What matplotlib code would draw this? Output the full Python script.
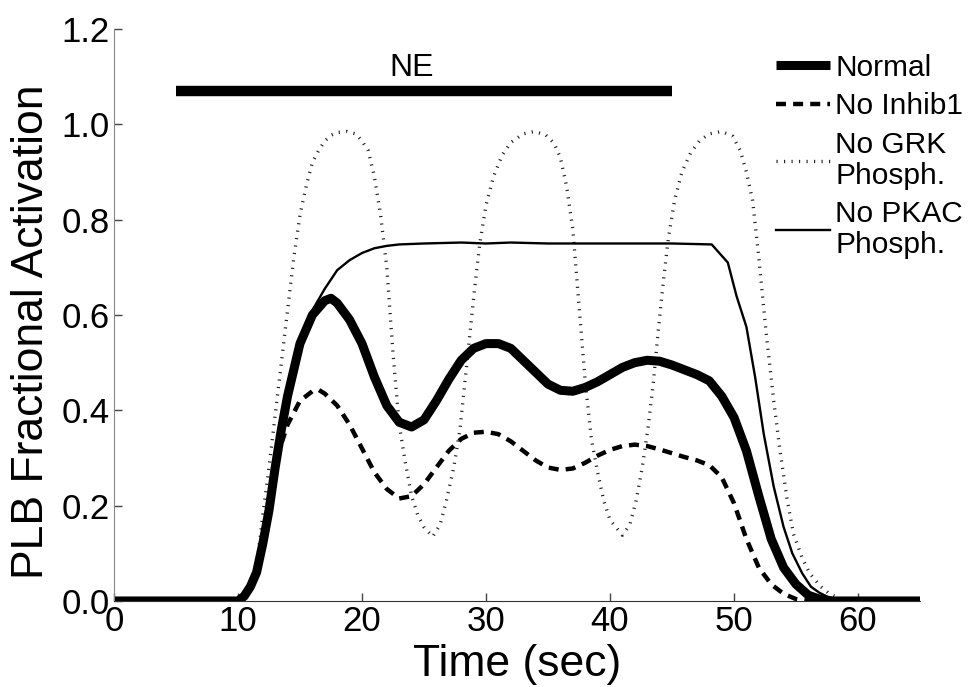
import numpy as np
import matplotlib
matplotlib.use('Agg')
import matplotlib.pyplot as plt

# data (time in sec, fractional activation)
t_normal = [0, 10, 10.5, 11, 11.5, 12, 12.5, 13, 13.5, 14, 15, 16, 17, 17.5, 18, 19, 20, 21, 22, 23,
            24, 25, 26, 27, 28, 29, 30, 31, 32, 33, 34, 35, 36, 37, 38, 39, 40, 41, 42, 43, 44, 45,
            46, 47, 48, 49, 50, 51, 52, 53, 54, 55, 56, 57, 58, 65]
y_normal = [0, 0, 0.01, 0.03, 0.06, 0.12, 0.19, 0.28, 0.36, 0.43, 0.54, 0.60, 0.63, 0.635, 0.625,
            0.59, 0.54, 0.47, 0.41, 0.375, 0.365, 0.38, 0.42, 0.465, 0.505, 0.53, 0.54, 0.54, 0.53,
            0.505, 0.48, 0.455, 0.442, 0.44, 0.448, 0.46, 0.475, 0.49, 0.5, 0.505, 0.503, 0.495,
            0.485, 0.475, 0.462, 0.43, 0.385, 0.315, 0.22, 0.13, 0.07, 0.035, 0.012, 0.003, 0, 0]

t_inhib = [0, 10, 10.5, 11, 11.5, 12, 12.5, 13, 13.5, 14, 15, 16, 16.5, 17, 18, 19, 20, 21, 22, 23,
           24, 25, 26, 27, 28, 29, 30, 31, 32, 33, 34, 35, 36, 37, 38, 39, 40, 41, 42, 43, 44, 45,
           46, 47, 48, 49, 50, 51, 52, 53, 54, 55, 56, 65]
y_inhib = [0, 0, 0.01, 0.03, 0.06, 0.12, 0.19, 0.27, 0.33, 0.37, 0.42, 0.44, 0.443, 0.435, 0.41,
           0.37, 0.32, 0.27, 0.235, 0.215, 0.22, 0.245, 0.28, 0.315, 0.34, 0.353, 0.355, 0.35,
           0.335, 0.315, 0.295, 0.28, 0.275, 0.278, 0.29, 0.305, 0.317, 0.325, 0.328, 0.325,
           0.318, 0.31, 0.302, 0.295, 0.285, 0.26, 0.205, 0.13, 0.07, 0.035, 0.015, 0.004, 0, 0]

t_grk = [0, 10, 10.5, 11, 11.5, 12, 12.5, 13, 13.5, 14, 14.5, 15, 15.5, 16, 16.5, 17, 17.5, 18,
         18.8, 19.5, 20, 20.5, 21, 21.5, 22, 22.5, 23, 23.5, 24, 24.5, 25, 25.7, 26.3, 26.8, 27.4,
         27.9, 28.3, 28.7, 29.1, 29.5, 30, 30.6, 31.3, 32, 33, 33.9, 34.8, 35.5, 36, 36.5, 37,
         37.5, 38, 38.5, 39, 39.5, 40, 41, 41.6, 42.1, 42.6, 43.1, 43.5, 43.9, 44.3, 44.7, 45.2,
         45.8, 46.5, 47.2, 48, 49, 49.9, 50.5, 51, 51.5, 52, 52.6, 53.2, 53.7, 54.3, 54.8, 55.5,
         56.1, 57, 57.7, 58.5, 59, 65]
y_grk = [0, 0, 0.005, 0.03, 0.07, 0.18, 0.28, 0.39, 0.5, 0.61, 0.72, 0.81, 0.87, 0.92, 0.945,
         0.965, 0.977, 0.983, 0.985, 0.98, 0.965, 0.945, 0.89, 0.81, 0.7, 0.52, 0.37, 0.29, 0.22,
         0.18, 0.155, 0.135, 0.16, 0.21, 0.28, 0.36, 0.46, 0.56, 0.66, 0.75, 0.83, 0.89, 0.935,
         0.962, 0.98, 0.985, 0.978, 0.96, 0.93, 0.87, 0.78, 0.62, 0.46, 0.34, 0.27, 0.21, 0.17,
         0.138, 0.16, 0.21, 0.28, 0.37, 0.46, 0.57, 0.67, 0.76, 0.84, 0.9, 0.94, 0.965, 0.98,
         0.985, 0.975, 0.945, 0.9, 0.84, 0.72, 0.56, 0.42, 0.317, 0.21, 0.14, 0.09, 0.058, 0.03,
         0.015, 0.005, 0, 0]

t_pkac = [0, 10, 10.5, 11, 11.5, 12, 12.5, 13, 13.5, 14, 15, 16, 17, 18, 19, 20, 21, 22, 23, 25,
          28, 30, 32, 35, 40, 45, 48.2, 49.5, 50.2, 51, 51.7, 52.4, 53.2, 54, 54.7, 55.5, 56.2,
          56.9, 58, 59, 65]
y_pkac = [0, 0, 0.01, 0.03, 0.06, 0.12, 0.19, 0.28, 0.36, 0.44, 0.55, 0.61, 0.655, 0.694, 0.715,
          0.73, 0.74, 0.745, 0.748, 0.75, 0.752, 0.75, 0.752, 0.75, 0.75, 0.75, 0.748, 0.71,
          0.64, 0.575, 0.47, 0.35, 0.24, 0.155, 0.1, 0.058, 0.03, 0.017, 0.003, 0, 0]

ne_start, ne_end, ne_level = 5, 45, 1.07

plt.rcParams['font.family'] = ['Liberation Sans', 'DejaVu Sans']

fig = plt.figure(figsize=(9.74, 6.87), dpi=100)
ax = fig.add_axes([0.117, 0.1252, 0.8276, 0.8326])

ax.plot(t_grk, y_grk, color='#222222', linewidth=2.4, linestyle=(0, (0.35, 1.9)),
        dash_capstyle='butt', label='No GRK\nPhosph.')
ax.plot(t_pkac, y_pkac, color='black', linewidth=1.7, label='No PKAC\nPhosph.')
ax.plot(t_inhib, y_inhib, color='black', linewidth=3.2, linestyle=(0, (2.25, 1.6)),
        label='No Inhib1')
ax.plot(t_normal, y_normal, color='black', linewidth=6.5, solid_capstyle='butt', label='Normal')

ax.plot([ne_start, ne_end], [ne_level, ne_level], color='black', linewidth=7.5,
        solid_capstyle='butt')
ax.text(24, 1.102, 'NE', ha='center', va='baseline', fontsize=23)

ax.set_xlim(0, 65)
ax.set_ylim(0, 1.2)
ax.set_xticks([0, 10, 20, 30, 40, 50, 60])
ax.set_yticks([0, 0.2, 0.4, 0.6, 0.8, 1.0, 1.2])
ax.set_yticklabels(['0.0', '0.2', '0.4', '0.6', '0.8', '1.0', '1.2'])
ax.tick_params(direction='in', length=6, width=1, labelsize=25, colors='#444444',
               labelcolor='black')
ax.tick_params(axis='x', pad=3)
ax.tick_params(axis='y', pad=3)
for s in ['top', 'right']:
    ax.spines[s].set_visible(False)
ax.spines['left'].set_color('#888888')
ax.spines['bottom'].set_color('#333333')

ax.set_xlabel('Time (sec)', fontsize=32)
ax.xaxis.set_label_coords(0.5, -0.075)
ax.set_ylabel('PLB Fractional Activation', fontsize=32)
ax.yaxis.set_label_coords(-0.077, 0.47)

h, l = ax.get_legend_handles_labels()
order = [3, 2, 0, 1]
leg = fig.legend([h[i] for i in order], [l[i] for i in order], loc='upper left',
                 bbox_to_anchor=(0.797, 0.922), frameon=False, fontsize=21.5,
                 handlelength=1.8, handletextpad=0.18, labelspacing=0.36, borderpad=0,
                 borderaxespad=0)
for txt in leg.get_texts():
    txt.set_linespacing(1.12)

plt.savefig('out.png', dpi=100)
